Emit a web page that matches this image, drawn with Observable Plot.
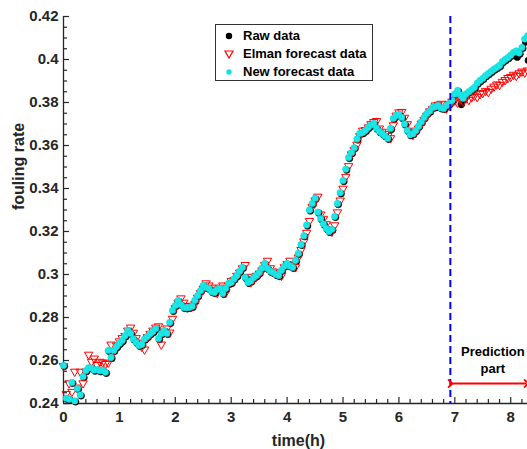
<!DOCTYPE html>
<html>
<head>
<meta charset="utf-8">
<script src="https://cdn.jsdelivr.net/npm/d3@7"></script>
<script src="https://cdn.jsdelivr.net/npm/@observablehq/plot@0.6"></script>
<style>
  body { margin: 0; background: white; }
  #wrap { position: relative; width: 527px; height: 449px; overflow: hidden; }
  #legend { position: absolute; left: 215px; top: 24px; width: 156px; height: 55px; border: 1px solid #333; background: white;
    font-family: "Liberation Sans", Arial, sans-serif; font-weight: bold; font-size: 13px; color: #000; }
  #legend .row { position: absolute; left: 0; height: 18px; line-height: 18px; white-space: nowrap; }
  #legend svg { position: absolute; left: 7px; top: 3px; }
  #legend span { position: absolute; left: 27px; top: 0; }
</style>
</head>
<body>
<div id="wrap"></div>
<script>
// ---- data ----
const time = [
  0,0.05,0.1,0.15,0.2,0.25,0.3,0.35,0.4,0.45,0.5,0.55,0.6,0.65,0.7,0.75,0.8,0.85,0.9,0.95,
  1,1.05,1.1,1.15,1.2,1.25,1.3,1.35,1.4,1.45,1.5,1.55,1.6,1.65,1.7,1.75,1.8,1.85,1.9,1.95,
  2,2.05,2.1,2.15,2.2,2.25,2.3,2.35,2.4,2.45,2.5,2.55,2.6,2.65,2.7,2.75,2.8,2.85,2.9,2.95,
  3,3.05,3.1,3.15,3.2,3.25,3.3,3.35,3.4,3.45,3.5,3.55,3.6,3.65,3.7,3.75,3.8,3.85,3.9,3.95,
  4,4.05,4.1,4.15,4.2,4.25,4.3,4.35,4.4,4.45,4.5,4.55,4.6,4.65,4.7,4.75,4.8,4.85,4.9,4.95,
  5,5.05,5.1,5.15,5.2,5.25,5.3,5.35,5.4,5.45,5.5,5.55,5.6,5.65,5.7,5.75,5.8,5.85,5.9,5.95,
  6,6.05,6.1,6.15,6.2,6.25,6.3,6.35,6.4,6.45,6.5,6.55,6.6,6.65,6.7,6.75,6.8,6.85,6.9,6.95,
  7,7.05,7.1,7.15,7.2,7.25,7.3,7.35,7.4,7.45,7.5,7.55,7.6,7.65,7.7,7.75,7.8,7.85,7.9,7.95,
  8,8.05,8.1,8.15,8.2,8.25,8.3
];
const rawData = [
  0.2577,0.2425,0.2420,0.2498,0.2412,0.2470,0.2440,0.2525,0.2553,0.2567,0.2565,0.2555,0.2558,0.2552,0.2555,0.2545,0.2647,0.2614,0.2647,0.2665,
  0.2680,0.2693,0.2715,0.2740,0.2726,0.2700,0.2684,0.2670,0.2675,0.2700,0.2712,0.2725,0.2735,0.2749,0.2702,0.2725,0.2740,0.2726,0.2777,0.2833,
  0.2856,0.2879,0.2860,0.2847,0.2845,0.2847,0.2852,0.2880,0.2902,0.2925,0.2949,0.2940,0.2935,0.2920,0.2916,0.2930,0.2935,0.2912,0.2935,0.2958,
  0.2963,0.2980,0.2995,0.3015,0.3033,0.2986,0.2963,0.2970,0.2986,0.2995,0.3009,0.3030,0.3051,0.3028,0.3015,0.3009,0.3000,0.2995,0.3020,0.3040,
  0.3051,0.3040,0.3033,0.3065,0.3098,0.3140,0.3180,0.3230,0.3300,0.3330,0.3355,0.3290,0.3260,0.3235,0.3214,0.3200,0.3210,0.3270,0.3330,0.3380,
  0.3437,0.3490,0.3544,0.3567,0.3590,0.3630,0.3656,0.3660,0.3670,0.3684,0.3695,0.3702,0.3680,0.3665,0.3656,0.3645,0.3633,0.3679,0.3726,0.3740,
  0.3745,0.3730,0.3700,0.3670,0.3650,0.3655,0.3670,0.3690,0.3710,0.3730,0.3749,0.3760,0.3777,0.3780,0.3786,0.3775,0.3772,0.3786,0.3795,0.3810,
  0.3840,0.3856,0.3795,0.3820,0.3840,0.3850,0.3860,0.3870,0.3890,0.3902,0.3912,0.3925,0.3935,0.3945,0.3955,0.3963,0.3972,0.3990,0.4000,0.4009,
  0.4020,0.4033,0.4015,0.4030,0.4056,0.4085,0.4000
];
const elmanData = [
  0.2570,0.2440,0.2490,0.2450,0.2544,0.2470,0.2544,0.2490,0.2544,0.2623,0.2590,0.2605,0.2575,0.2590,0.2586,0.2580,0.2586,0.2670,0.2640,0.2665,
  0.2685,0.2700,0.2710,0.2735,0.2749,0.2725,0.2700,0.2679,0.2660,0.2647,0.2705,0.2720,0.2735,0.2749,0.2755,0.2670,0.2730,0.2745,0.2726,0.2790,
  0.2840,0.2865,0.2885,0.2865,0.2850,0.2848,0.2850,0.2858,0.2888,0.2910,0.2930,0.2955,0.2945,0.2935,0.2925,0.2910,0.2935,0.2945,0.2910,0.2945,
  0.2965,0.2970,0.2990,0.3005,0.3025,0.3040,0.2985,0.2960,0.2975,0.2990,0.3000,0.3015,0.3040,0.3060,0.3025,0.3010,0.3005,0.2995,0.2990,0.3030,
  0.3045,0.3060,0.3040,0.3030,0.3075,0.3110,0.3150,0.3190,0.3245,0.3310,0.3340,0.3358,0.3275,0.3255,0.3230,0.3205,0.3195,0.3225,0.3285,0.3340,
  0.3395,0.3450,0.3500,0.3555,0.3575,0.3600,0.3640,0.3665,0.3668,0.3680,0.3695,0.3705,0.3710,0.3675,0.3660,0.3650,0.3640,0.3630,0.3690,0.3735,
  0.3750,0.3752,0.3725,0.3695,0.3665,0.3645,0.3660,0.3675,0.3698,0.3715,0.3735,0.3755,0.3765,0.3782,0.3785,0.3790,0.3770,0.3768,0.3790,0.3800,
  0.3805,0.3795,0.3810,0.3800,0.3815,0.3808,0.3820,0.3828,0.3822,0.3835,0.3840,0.3850,0.3845,0.3860,0.3870,0.3880,0.3878,0.3892,0.3900,0.3910,
  0.3915,0.3925,0.3920,0.3932,0.3940,0.3935,0.3945
];
const newData = [
  0.2577,0.2425,0.2420,0.2498,0.2412,0.2470,0.2440,0.2525,0.2553,0.2567,0.2565,0.2555,0.2558,0.2552,0.2555,0.2545,0.2647,0.2614,0.2647,0.2665,
  0.2680,0.2693,0.2715,0.2740,0.2726,0.2700,0.2684,0.2670,0.2675,0.2700,0.2712,0.2725,0.2735,0.2749,0.2702,0.2725,0.2740,0.2726,0.2777,0.2833,
  0.2856,0.2879,0.2860,0.2847,0.2845,0.2847,0.2852,0.2880,0.2902,0.2925,0.2949,0.2940,0.2935,0.2920,0.2916,0.2930,0.2935,0.2912,0.2935,0.2958,
  0.2963,0.2980,0.2995,0.3015,0.3033,0.2986,0.2963,0.2970,0.2986,0.2995,0.3009,0.3030,0.3051,0.3028,0.3015,0.3009,0.3000,0.2995,0.3020,0.3040,
  0.3051,0.3040,0.3033,0.3065,0.3098,0.3140,0.3180,0.3230,0.3300,0.3330,0.3355,0.3290,0.3260,0.3235,0.3214,0.3200,0.3210,0.3270,0.3330,0.3380,
  0.3437,0.3490,0.3544,0.3567,0.3590,0.3630,0.3656,0.3660,0.3670,0.3684,0.3695,0.3702,0.3680,0.3665,0.3656,0.3645,0.3633,0.3679,0.3726,0.3740,
  0.3745,0.3730,0.3700,0.3670,0.3650,0.3655,0.3670,0.3690,0.3710,0.3730,0.3749,0.3760,0.3777,0.3780,0.3786,0.3775,0.3772,0.3786,0.3795,0.3810,
  0.3840,0.3856,0.3835,0.3820,0.3840,0.3850,0.3860,0.3870,0.3890,0.3902,0.3912,0.3925,0.3935,0.3945,0.3955,0.3963,0.3972,0.3990,0.4000,0.4009,
  0.4020,0.4033,0.4040,0.4030,0.4056,0.4095,0.4110
];

const xTicks = [0,1,2,3,4,5,6,7,8];
const xTickLabels = ["0","1","2","3","4","5","6","7","8"];
const xMinorTicks = [0.2,0.4,0.6,0.8,1.2,1.4,1.6,1.8,2.2,2.4,2.6,2.8,3.2,3.4,3.6,3.8,4.2,4.4,4.6,4.8,5.2,5.4,5.6,5.8,6.2,6.4,6.6,6.8,7.2,7.4,7.6,7.8,8.2];
const yTicks = [0.24,0.26,0.28,0.30,0.32,0.34,0.36,0.38,0.40,0.42];
const yTickLabels = ["0.24","0.26","0.28","0.3","0.32","0.34","0.36","0.38","0.4","0.42"];
const yMinorTicks = [0.245,0.25,0.255,0.265,0.27,0.275,0.285,0.29,0.295,0.305,0.31,0.315,0.325,0.33,0.335,0.345,0.35,0.355,0.365,0.37,0.375,0.385,0.39,0.395,0.405,0.41,0.415];
const xDomain = [0, 8.3];
const yDomain = [0.24, 0.42];
const predictionStart = 6.92;
const predictionEnd = 8.28;
const arrowLevel = 0.2493;
const predictionLabel = [{t: 7.68, v: 0.2607, text: "Prediction\npart"}];
const seriesNames = ["Raw data", "Elman forecast data", "New forecast data"];

// ---- chart ----
const W = 527, H = 449, mL = 63, mR = 0, mT = 16, mB = 46;
const frameW = W - mL - mR, frameH = H - mT - mB;
const axisColor = "#262626";
const rows = time.map((t, i) => ({t, raw: rawData[i], elman: elmanData[i], fresh: newData[i]}));

const triDown = {
  draw(ctx, size) {
    const r = Math.sqrt(size / Math.PI);
    ctx.moveTo(-r, -0.8 * r);
    ctx.lineTo(r, -0.8 * r);
    ctx.lineTo(0, 0.95 * r);
    ctx.closePath();
  }
};

const chart = Plot.plot({
  width: W, height: H,
  marginLeft: mL, marginRight: mR, marginTop: mT, marginBottom: mB,
  x: {domain: xDomain},
  y: {domain: yDomain},
  style: {fontFamily: "'Liberation Sans', Arial, sans-serif", fontWeight: "bold", fontSize: "15px", color: axisColor, background: "white", overflow: "visible"},
  marks: [
    // axis lines and ticks
    Plot.ruleX([xDomain[0]], {stroke: axisColor, strokeWidth: 1.3}),
    Plot.ruleY([yDomain[0]], {stroke: axisColor, strokeWidth: 1.3}),
    Plot.tickY(yTicks, {y: d => d, insetRight: frameW - 6, stroke: axisColor, strokeWidth: 1.2}),
    Plot.tickY(yMinorTicks, {y: d => d, insetRight: frameW - 4, stroke: axisColor, strokeWidth: 1.2}),
    Plot.tickX(xTicks, {x: d => d, insetTop: frameH - 6, stroke: axisColor, strokeWidth: 1.2}),
    Plot.tickX(xMinorTicks, {x: d => d, insetTop: frameH - 4, stroke: axisColor, strokeWidth: 1.2}),
    Plot.axisY(yTicks, {tickSize: 0, tickPadding: 5, label: null, fontSize: 15, fontWeight: "bold", fill: axisColor,
      tickFormat: d => yTickLabels[yTicks.indexOf(d)]}),
    Plot.axisX(xTicks, {tickSize: 0, tickPadding: 8, label: null, fontSize: 15, fontWeight: "bold", fill: axisColor,
      tickFormat: d => xTickLabels[xTicks.indexOf(d)]}),
    Plot.text(["time(h)"], {frameAnchor: "bottom", dy: 37, dx: 3, fontSize: 16, fontWeight: "bold", fill: axisColor, lineAnchor: "middle"}),
    Plot.text(["fouling rate"], {frameAnchor: "left", dx: -45, rotate: -90, fontSize: 16, fontWeight: "bold", fill: axisColor, lineAnchor: "middle"}),
    // series
    Plot.dot(rows, {x: "t", y: "raw", r: 3.4, fill: "black", stroke: "black", strokeWidth: 0.5, dx: 0.9, dy: 0.9}),
    Plot.dot(rows, {x: "t", y: "elman", symbol: triDown, r: 4.2, fill: "none", stroke: "#ff0000", strokeWidth: 1}),
    Plot.dot(rows, {x: "t", y: "fresh", r: 3.2, fill: "#1ee6e6", stroke: "#00dede", strokeWidth: 0.6}),
    // annotations
    Plot.ruleX([predictionStart], {stroke: "#0000ff", strokeWidth: 2, strokeDasharray: "7,4"}),
    Plot.link([{a: predictionStart, b: predictionEnd, v: arrowLevel}], {x1: "a", x2: "b", y1: "v", y2: "v",
      stroke: "#ff0000", strokeWidth: 1.8, markerStart: "arrow", markerEnd: "arrow"}),
    Plot.text(predictionLabel, {x: "t", y: "v", text: "text", fontSize: 13, fontWeight: "bold", fill: "black", lineHeight: 1.35})
  ]
});

const wrap = document.getElementById("wrap");
wrap.appendChild(chart);

// legend
const legend = document.createElement("div");
legend.id = "legend";
const markerSvgs = [
  '<svg width="12" height="12"><circle cx="6" cy="6" r="3.2" fill="black"/></svg>',
  '<svg width="12" height="12"><path d="M2,3 L10,3 L6,10 Z" fill="none" stroke="#ff0000" stroke-width="1.2"/></svg>',
  '<svg width="12" height="12"><g stroke="#00e0e0" stroke-width="1.4"><line x1="6" y1="3" x2="6" y2="9"/><line x1="3" y1="6" x2="9" y2="6"/><line x1="4" y1="4" x2="8" y2="8"/><line x1="8" y1="4" x2="4" y2="8"/></g></svg>'
];
seriesNames.forEach((name, i) => {
  const row = document.createElement("div");
  row.className = "row";
  row.style.top = (2 + i * 18) + "px";
  row.innerHTML = markerSvgs[i] + "<span>" + name + "</span>";
  legend.appendChild(row);
});
wrap.appendChild(legend);
</script>
</body>
</html>
